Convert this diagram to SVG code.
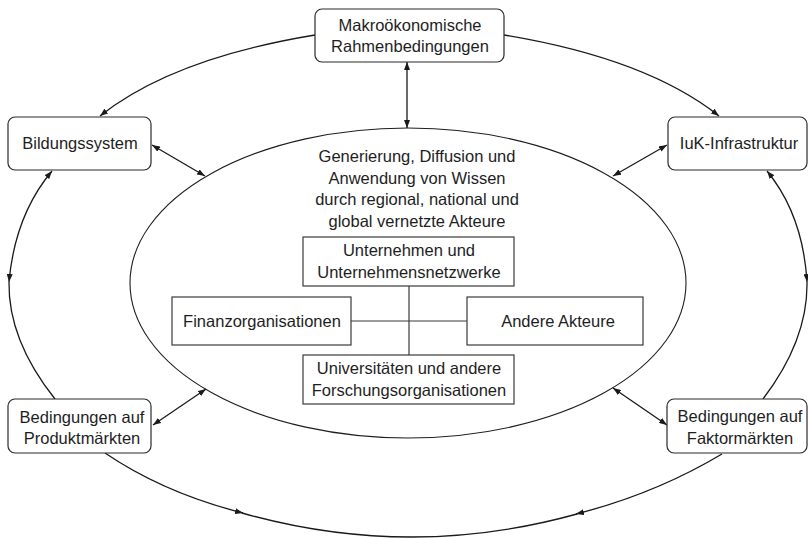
<svg xmlns="http://www.w3.org/2000/svg" width="808" height="538" viewBox="0 0 808 538">
<style>
  text { font-family: "Liberation Sans", Arial, sans-serif; font-size: 16.5px; fill: #1e1e1e; text-anchor: middle; }
  .rbox { fill: #ffffff; stroke: #2a2a2a; stroke-width: 1.2; }
  .ibox { fill: #ffffff; stroke: #3a3a3a; stroke-width: 1.2; }
  .ell { fill: none; stroke: #1e1e1e; stroke-width: 1.1; }
  .con { fill: none; stroke: #1a1a1a; stroke-width: 1.3; }
  .link { fill: none; stroke: #3a3a3a; stroke-width: 1.2; }
</style>
<defs>
  <marker id="ah" viewBox="0 0 8 6" refX="8" refY="3" markerWidth="8" markerHeight="6" markerUnits="userSpaceOnUse" orient="auto-start-reverse">
    <path d="M0,0 L8,3 L0,6 z" fill="#1a1a1a"/>
  </marker>
</defs>

<rect width="808" height="538" fill="#ffffff"/>

<g id="wissen">
  <ellipse class="ell" cx="408" cy="283" rx="278" ry="155"/>
  <text x="417" y="162.3">Generierung, Diffusion und</text>
  <text x="417" y="184">Anwendung von Wissen</text>
  <text x="417" y="205.3">durch regional, national und</text>
  <text x="417" y="226.7">global vernetzte Akteure</text>
</g>

<g id="connectors">
  <!-- inner links -->
  <line class="link" x1="409" y1="286" x2="409" y2="355"/>
  <line class="link" x1="351" y1="321" x2="467" y2="321"/>
  <!-- double arrows to ellipse -->
  <line class="con" x1="407" y1="62" x2="407" y2="128" marker-start="url(#ah)" marker-end="url(#ah)"/>
  <line class="con" x1="152" y1="145" x2="205" y2="176" marker-start="url(#ah)" marker-end="url(#ah)"/>
  <line class="con" x1="667" y1="145" x2="613" y2="176" marker-start="url(#ah)" marker-end="url(#ah)"/>
  <line class="con" x1="153" y1="425" x2="206" y2="389" marker-start="url(#ah)" marker-end="url(#ah)"/>
  <line class="con" x1="667" y1="425" x2="613" y2="388" marker-start="url(#ah)" marker-end="url(#ah)"/>
  <!-- outer ring -->
  <path class="con" d="M315,35 Q172.5,58.5 100,116" marker-end="url(#ah)"/>
  <path class="con" d="M504,35 Q646.5,58.5 719,116" marker-end="url(#ah)"/>
  <path class="con" d="M52,171 Q15,215 9,282" marker-start="url(#ah)" marker-end="url(#ah)"/>
  <path class="con" d="M9,282 Q8,340 55,399"/>
  <path class="con" d="M767,171 Q803,215 807,282" marker-start="url(#ah)" marker-end="url(#ah)"/>
  <path class="con" d="M807,282 Q808,340 763,399"/>
  <path class="con" d="M105,453 Q164,493 243,513" marker-end="url(#ah)"/>
  <path class="con" d="M242,513 Q409.5,560.5 577,514"/>
  <path class="con" d="M722,454 Q655,494 576,514" marker-end="url(#ah)"/>
</g>

<g id="makro">
  <rect class="rbox" x="315" y="9" width="189" height="53" rx="7"/>
  <text x="410" y="30.7">Makroökonomische</text>
  <text x="410" y="52.3">Rahmenbedingungen</text>
</g>

<g id="bildung">
  <rect class="rbox" x="8" y="117" width="143" height="53" rx="7"/>
  <text x="80" y="149.3">Bildungssystem</text>
</g>

<g id="iuk">
  <rect class="rbox" x="668" y="117" width="139" height="53" rx="7"/>
  <text x="739" y="149.3">IuK-Infrastruktur</text>
</g>

<g id="produkt">
  <rect class="rbox" x="8" y="399" width="143" height="54" rx="7"/>
  <text x="82" y="422.7">Bedingungen auf</text>
  <text x="82" y="444">Produktmärkten</text>
</g>

<g id="faktor">
  <rect class="rbox" x="667" y="399" width="140" height="54" rx="7"/>
  <text x="740" y="422">Bedingungen auf</text>
  <text x="740" y="443.5">Faktormärkten</text>
</g>

<g id="unternehmen">
  <rect class="ibox" x="303" y="237" width="211" height="49"/>
  <text x="409" y="256">Unternehmen und</text>
  <text x="409" y="277.7">Unternehmensnetzwerke</text>
</g>

<g id="finanz">
  <rect class="ibox" x="172" y="297" width="179" height="48"/>
  <text x="262" y="326.7">Finanzorganisationen</text>
</g>

<g id="andere">
  <rect class="ibox" x="467" y="297" width="176" height="48"/>
  <text x="558" y="326.7">Andere Akteure</text>
</g>

<g id="universitaeten">
  <rect class="ibox" x="303" y="355" width="211" height="49"/>
  <text x="409" y="374.3">Universitäten und andere</text>
  <text x="409" y="395.7">Forschungsorganisationen</text>
</g>
</svg>
